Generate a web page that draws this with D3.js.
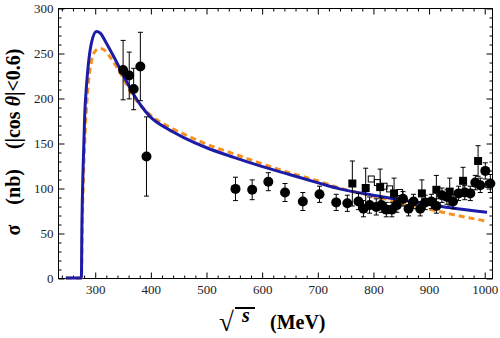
<!DOCTYPE html>
<meta charset="utf-8">
<style>
body { margin: 0; background: #fff; }
text { font-family: "Liberation Serif", "Times New Roman", serif; }
</style>
<svg width="500" height="338"></svg>
<script src="https://d3js.org/d3.v7.min.js"></script>
<script>

// values: [sqrt(s) MeV, sigma nb]
var blueCurve = [[248,0],[276,0],[277,60],[279,120],[282,181],[285,212],[288,234],[294,261],[303,274],[310,272],
  [320,262],[335,245],[350,227],[370,204],[385,190],[400,179],[430,166],[460,156],[500,145],[550,134],[600,124],
  [650,115],[700,106],[740,99],[800,92],[870,85],[940,78],[1005,73]];
var orangeCurve = [[248,0],[276,0],[278,70],[282,150],[287,205],[294,240],[302,253],[310,255],[318,253],
  [327,246],[345,229],[369,202],[385,190],[400,181],[430,169],[460,160],[500,149],[550,138],[600,127],[650,117],
  [700,108],[740,100],[800,91],[870,81],[940,71],[1005,63]];

// [sqrt(s), sigma, error]
var circlesLow = [[351,231,33],[362,225,26],[370,210,23],[382,235,38],[393,135,44]];
var circlesHigh = [[553,99,13],[583,98,11],[612,107,10],[642,95,10],[674,85,10],[704,93,9],[734,84,9],
  [754,83,9],[774,85,9],[783,77,9],[794,81,9],[806,79,9],[815,81,8],[824,76,8],[834,76,8],[843,81,8],
  [854,88,8],[864,77,8],[873,85,8],[885,77,8],[894,84,8],[905,85,8],[914,80,8],[924,92,8],[933,90,8],
  [944,85,8],[954,94,8],[965,95,8],[975,94,8],[984,106,8],[993,103,8],[1002,119,9],[1011,105,10]];
var squares = [[763,105,25],[787,100,22],[813,101,20],[838,94,17],[888,94,15],[914,98,16],[938,96,15],
  [962,108,15],[989,130,17]];
var openSquares = [[797,110],[808,106],[820,102],[830,99],[848,95],[1008,104]];

var xTicks = [300,400,500,600,700,800,900,1000];
var yTicks = [0,50,100,150,200,250,300];

var svg = d3.select("svg");

var x = d3.scaleLinear().domain([234,1014]).range([58,492]);
var y = d3.scaleLinear().domain([0,300]).range([278,8]);

var xMinor = d3.range(240,1014,20).filter(function(v){ return v % 100 != 0; });
var yMinor = d3.range(0,301,10).filter(function(v){ return v % 50 != 0; });

// frame
svg.append("rect")
  .attr("x", 58.5).attr("y", 8.5)
  .attr("width", 434).attr("height", 270)
  .attr("fill", "none").attr("stroke", "#000");

function axisGroup(axis, tr) {
  var g = svg.append("g").attr("transform", tr).call(axis);
  g.select(".domain").remove();
  g.selectAll("line").attr("stroke", "#000");
  g.selectAll("text").attr("font-family", "Liberation Serif").attr("font-size", 13).attr("fill", "#222");
  return g;
}

axisGroup(d3.axisBottom(x).tickValues(xTicks).tickSize(-6).tickPadding(6).tickFormat(d3.format("d")), "translate(0.5,278.5)");
axisGroup(d3.axisBottom(x).tickValues(xMinor).tickSize(-3).tickFormat(""), "translate(0.5,278.5)");
axisGroup(d3.axisTop(x).tickValues(xTicks).tickSize(-6).tickFormat(""), "translate(0.5,8.5)");
axisGroup(d3.axisTop(x).tickValues(xMinor).tickSize(-3).tickFormat(""), "translate(0.5,8.5)");
axisGroup(d3.axisLeft(y).tickValues(yTicks).tickSize(-6).tickPadding(5).tickFormat(d3.format("d")), "translate(58.5,0.5)");
axisGroup(d3.axisLeft(y).tickValues(yMinor).tickSize(-3).tickFormat(""), "translate(58.5,0.5)");
axisGroup(d3.axisRight(y).tickValues(yTicks).tickSize(-6).tickFormat(""), "translate(492.5,0.5)");
axisGroup(d3.axisRight(y).tickValues(yMinor).tickSize(-3).tickFormat(""), "translate(492.5,0.5)");

// curves
var line = d3.line()
  .x(function(d) { return x(d[0]); })
  .y(function(d) { return y(d[1]); })
  .curve(d3.curveMonotoneX);

svg.append("path").datum(orangeCurve)
  .attr("d", line).attr("fill", "none")
  .attr("stroke", "#f7901e").attr("stroke-width", 3)
  .attr("stroke-dasharray", "6,4");

svg.append("path").datum(blueCurve)
  .attr("d", line).attr("fill", "none")
  .attr("stroke", "#1c1ca8").attr("stroke-width", 3);

// error bars
function errorBars(data) {
  var g = svg.append("g").attr("stroke", "#000").attr("stroke-width", 1);
  g.selectAll(".bar").data(data).enter().append("line")
    .attr("x1", function(d){ return x(d[0]); }).attr("x2", function(d){ return x(d[0]); })
    .attr("y1", function(d){ return y(d[1] - d[2]); }).attr("y2", function(d){ return y(d[1] + d[2]); });
  g.selectAll(".top").data(data).enter().append("line")
    .attr("x1", function(d){ return x(d[0]) - 2.5; }).attr("x2", function(d){ return x(d[0]) + 2.5; })
    .attr("y1", function(d){ return y(d[1] + d[2]); }).attr("y2", function(d){ return y(d[1] + d[2]); });
  g.selectAll(".bot").data(data).enter().append("line")
    .attr("x1", function(d){ return x(d[0]) - 2.5; }).attr("x2", function(d){ return x(d[0]) + 2.5; })
    .attr("y1", function(d){ return y(d[1] - d[2]); }).attr("y2", function(d){ return y(d[1] - d[2]); });
}

errorBars(squares);
errorBars(circlesLow);
errorBars(circlesHigh);

svg.append("g").selectAll("rect").data(openSquares).enter().append("rect")
  .attr("x", function(d){ return x(d[0]) - 3; })
  .attr("y", function(d){ return y(d[1]) - 3; })
  .attr("width", 6).attr("height", 6)
  .attr("fill", "none").attr("stroke", "#000").attr("stroke-width", 1);

svg.append("g").selectAll("rect").data(squares).enter().append("rect")
  .attr("x", function(d){ return x(d[0]) - 4; })
  .attr("y", function(d){ return y(d[1]) - 4; })
  .attr("width", 8).attr("height", 8)
  .attr("fill", "#000");

svg.append("g").selectAll("circle").data(circlesLow.concat(circlesHigh)).enter().append("circle")
  .attr("cx", function(d){ return x(d[0]); })
  .attr("cy", function(d){ return y(d[1]); })
  .attr("r", 5)
  .attr("fill", "#000");

// axis titles
var yt = svg.append("text")
  .attr("transform", "translate(20,142) rotate(-90)")
  .attr("text-anchor", "middle")
  .attr("font-size", 20).attr("font-weight", "bold")
  .style("white-space", "pre");
yt.append("tspan").text("σ    (nb)    (|cos ");
yt.append("tspan").attr("font-style", "italic").text("θ");
yt.append("tspan").text("|<0.6)");

svg.append("text")
  .attr("x", 219).attr("y", 331)
  .attr("font-family", "DejaVu Sans").attr("font-weight", "bold").attr("font-size", 27)
  .text("√");
svg.append("line")
  .attr("x1", 235).attr("x2", 255).attr("y1", 308).attr("y2", 308)
  .attr("stroke", "#000").attr("stroke-width", 2);
svg.append("text")
  .attr("x", 242).attr("y", 322)
  .attr("font-size", 20).attr("font-weight", "bold").attr("font-style", "italic")
  .text("s");
svg.append("text")
  .attr("x", 270).attr("y", 329)
  .attr("font-size", 20).attr("font-weight", "bold")
  .text("(MeV)");

</script>
